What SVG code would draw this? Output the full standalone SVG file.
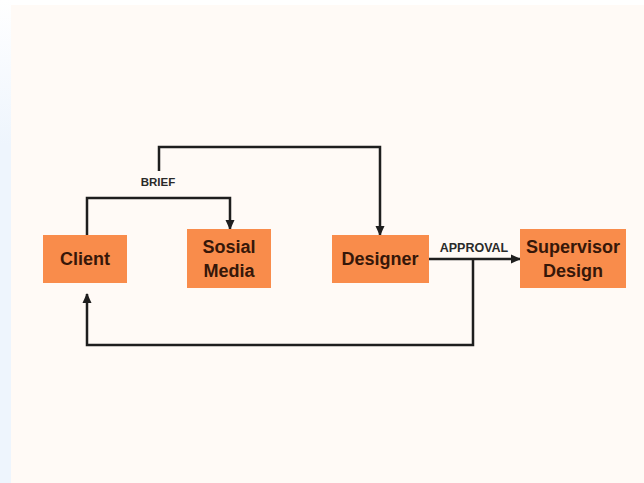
<svg xmlns="http://www.w3.org/2000/svg" width="644" height="483" viewBox="0 0 644 483">
  <defs>
    <linearGradient id="strip" x1="0" y1="0" x2="0" y2="1">
      <stop offset="0" stop-color="#ffffff"/>
      <stop offset="0.3" stop-color="#eef5fd"/>
      <stop offset="1" stop-color="#eef5fd"/>
    </linearGradient>
    <marker id="arr" markerUnits="userSpaceOnUse" markerWidth="10" markerHeight="10" viewBox="0 0 10 10" refX="9" refY="5" orient="auto">
      <path d="M0,0.5 L10,5 L0,9.5 Z" fill="#1e1e1e"/>
    </marker>
  </defs>
  <style>
    .box { fill: #f98c4b; }
    .lbl { font-family: "Liberation Sans", Arial, sans-serif; font-weight: bold; font-size: 18px; fill: #361709; text-anchor: middle; }
    .elbl { font-family: "Liberation Sans", Arial, sans-serif; font-weight: bold; font-size: 11.5px; fill: #2a2a2a; text-anchor: middle; }
    .conn { fill: none; stroke: #1e1e1e; stroke-width: 2.5; }
  </style>
  <rect x="0" y="0" width="644" height="483" fill="#ffffff"/>
  <rect x="0" y="0" width="11" height="483" fill="url(#strip)"/>
  <rect x="11" y="5" width="633" height="478" fill="#fffaf6"/>

  <g id="connectors">
    <path class="conn" d="M87,235 V198 H230 V229" marker-end="url(#arr)"/>
    <path class="conn" d="M159,171 V147 H380 V235" marker-end="url(#arr)"/>
    <text class="elbl" x="158" y="186">BRIEF</text>
    <path class="conn" d="M429,259 H520" marker-end="url(#arr)"/>
    <text class="elbl" x="474" y="252" style="font-size:12.5px">APPROVAL</text>
    <path class="conn" d="M473,259 V345 H87 V294" marker-end="url(#arr)"/>
  </g>

  <g id="client">
    <rect class="box" x="43" y="235" width="84" height="48"/>
    <text class="lbl" x="85" y="265">Client</text>
  </g>
  <g id="sosial-media">
    <rect class="box" x="187" y="229" width="84" height="59"/>
    <text class="lbl" x="229" y="253">Sosial</text>
    <text class="lbl" x="229" y="277">Media</text>
  </g>
  <g id="designer">
    <rect class="box" x="332" y="235" width="97" height="48"/>
    <text class="lbl" x="380" y="265">Designer</text>
  </g>
  <g id="supervisor-design">
    <rect class="box" x="520" y="229" width="106" height="59"/>
    <text class="lbl" x="573" y="253">Supervisor</text>
    <text class="lbl" x="573" y="277">Design</text>
  </g>
</svg>
